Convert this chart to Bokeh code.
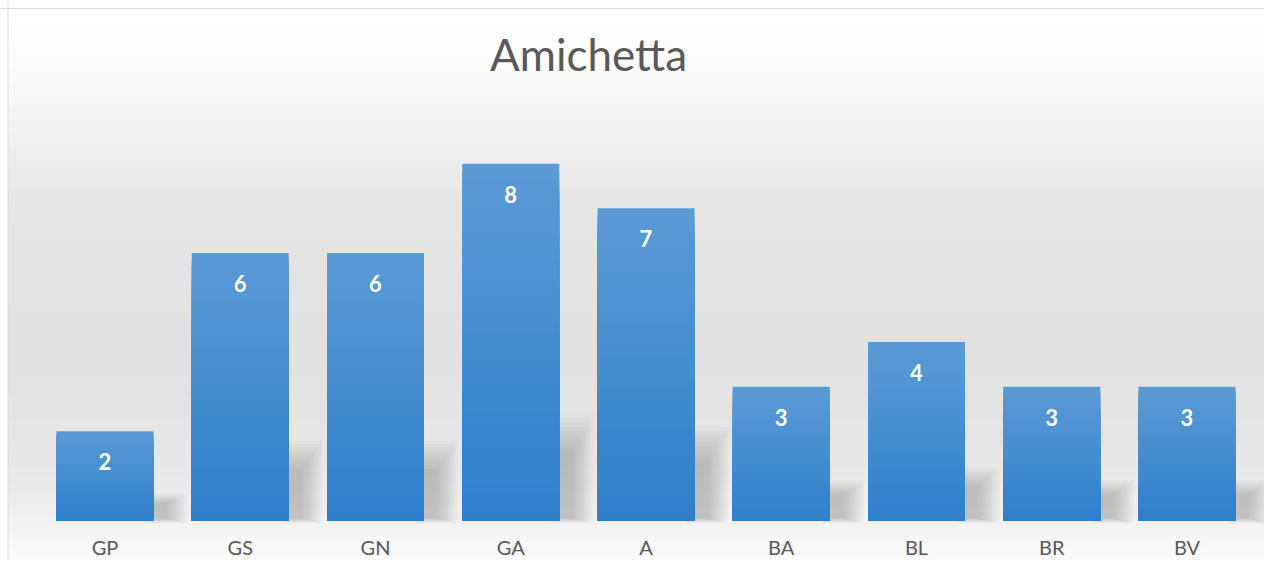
from bokeh.plotting import figure
from bokeh.models import Range1d, Label, Span, ColumnDataSource
from bokeh.core.properties import value
from bokeh.embed import file_html
from bokeh.resources import INLINE

# ---- data ----
categories = ["GP", "GS", "GN", "GA", "A", "BA", "BL", "BR", "BV"]
counts = [2, 6, 6, 8, 7, 3, 4, 3, 3]
chart_title = "Amichetta"

# ---- styling constants (pixel geometry of the frame) ----
FONT = "Lato"
W, H = 1264, 560
CAT_PX = 135.25          # px per category
FIRST_PX = 104.5         # px of first category centre
PX_PER_UNIT = 44.6       # px per value unit
BASE_PX = 520            # px of value 0

def xd(px):
    return (px - FIRST_PX) / CAT_PX

def yd(py):
    return (BASE_PX - py) / PX_PER_UNIT

X0, X1 = xd(0), xd(W)
Y0, Y1 = yd(H), yd(0)

p = figure(width=W, height=H, output_backend="svg", toolbar_location=None,
           x_range=Range1d(X0, X1), y_range=Range1d(Y0, Y1),
           x_axis_location=None, y_axis_location=None,
           min_border_left=0, min_border_right=0, min_border_top=0, min_border_bottom=0)
p.background_fill_color = "#FFFFFF"
p.border_fill_color = "#FFFFFF"
p.outline_line_color = None
p.grid.visible = False

# ---- background gradient (style) ----
stops = [(8, 255), (50, 253), (100, 246), (150, 238), (200, 231), (260, 227),
         (360, 226), (430, 229), (480, 234), (515, 240), (535, 246), (560, 251)]

def grey_at(yi):
    for (a, ga), (b, gb) in zip(stops[:-1], stops[1:]):
        if a <= yi <= b:
            t = (yi - a) / (b - a)
            return ga + (gb - ga) * t
    return stops[-1][1] if yi > stops[-1][0] else stops[0][1]

bg_top, bg_col = [], []
for yi in range(8, H, 3):
    g = int(round(grey_at(yi)))
    bg_top.append(yd(yi))
    bg_col.append("#%02x%02x%02x" % (g, g, g))
p.quad(left=xd(8), right=X1, bottom=Y0, top=bg_top, fill_color=bg_col, line_color=None)

# chart border lines
p.add_layout(Span(location=yd(8), dimension="width", line_color="#D9D9D9", line_width=1))
p.add_layout(Span(location=xd(7.5), dimension="height", line_color="#D9D9D9", line_width=1))

# ---- soft shadows ----
sh = dict(left=[], right=[], top=[], bottom=[])
L = 10
for j in range(L):
    for i, v in enumerate(counts):
        sh["left"].append(i + 0.30)
        sh["right"].append(i + 0.36 + 0.25 - 0.017 * j)
        sh["top"].append(v * (0.30 - 0.012 * j))
        sh["bottom"].append(-0.06 + 0.012 * j)
p.quad(source=ColumnDataSource(sh), left="left", right="right", top="top", bottom="bottom",
       fill_color="black", fill_alpha=0.019, line_color=None)

# ---- bars with vertical gradient ----
N = 40
c_top = (0x5B, 0x9B, 0xD5)
c_bot = (0x2F, 0x7F, 0xCB)
bx, btop, bcol = [], [], []
for k in range(N):
    t = k / (N - 1)
    col = "#%02x%02x%02x" % tuple(int(round(a + (b - a) * t)) for a, b in zip(c_top, c_bot))
    for i, v in enumerate(counts):
        bx.append(i)
        btop.append(v * (1 - k / N))
        bcol.append(col)
p.vbar(x=bx, top=btop, bottom=0, width=0.717, fill_color=bcol, line_color=None)

# ---- value labels ----
p.text(x=list(range(len(categories))), y=[v - 0.68 for v in counts],
       text=[str(v) for v in counts], text_font=value(FONT), text_font_style="bold",
       text_font_size="22px", text_color="white", text_align="center", text_baseline="middle")

# ---- category labels (drawn through the scales) ----
p.text(x=list(range(len(categories))), y=[yd(546)] * len(categories), text=categories,
       text_font=value(FONT), text_font_size="20px", text_color="#595959",
       text_align="center", text_baseline="middle")

# ---- title ----
p.add_layout(Label(x=xd(588), y=yd(53), text=chart_title, text_font=FONT, text_font_size="44px",
                   text_color="#595959", text_align="center", text_baseline="middle"))

open("out.html", "w").write(file_html(p, INLINE))
